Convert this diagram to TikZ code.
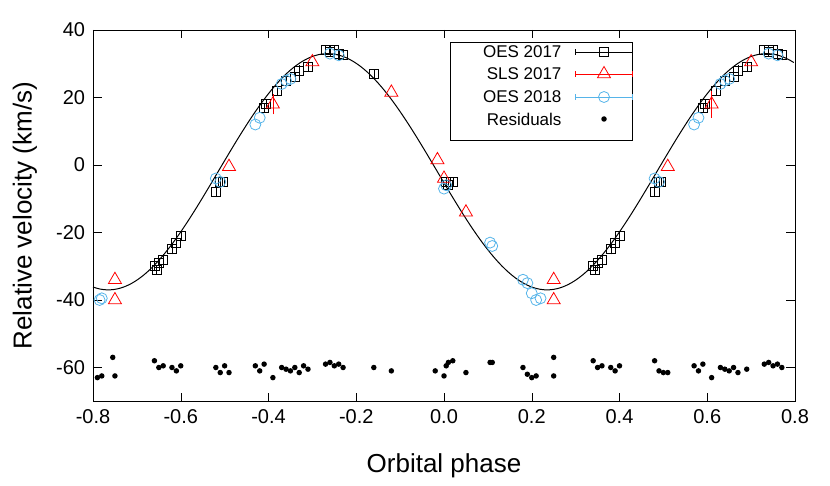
\documentclass[tikz,border=0pt]{standalone}
\usepackage{fontspec}
\setmainfont{Liberation Sans}
\usetikzlibrary{shapes.geometric}
\definecolor{sky}{RGB}{86,180,233}
\begin{document}
\begin{tikzpicture}[x=1pt,y=1pt,
  sq/.style={draw=black,line width=0.8pt,fill=none,minimum size=9pt,inner sep=0pt,shape=rectangle},
  tri/.style={draw=red,line width=0.8pt,regular polygon,regular polygon sides=3,minimum size=15pt,inner sep=0pt},
  circ/.style={draw=sky,line width=0.8pt,circle,minimum size=11pt,inner sep=0pt},
  dot/.style={fill=black,circle,minimum size=5.5pt,inner sep=0pt},
  tick/.style={font=\fontsize{20}{24}\selectfont}]
\useasboundingbox (0,0) rectangle (830,485);
\begin{scope}[shift={(444,320)},x=438.75pt,y=3.375pt]
  \draw[thin] (-0.8,-70) rectangle (0.8,40);
  \foreach \t/\l in {-0.8/-0.8,-0.6/-0.6,-0.4/-0.4,-0.2/-0.2,0.0/0.0,0.2/0.2,0.4/0.4,0.6/0.6,0.8/0.8}{
    \draw (\t,-70) -- ++(0,2.5) (\t,40) -- ++(0,-2.5);
    \node[tick,anchor=north] at (\t,-71.5) {\l};}
  \foreach \v in {-60,-40,-20,0,20,40}{
    \draw (-0.8,\v) -- ++(0.02,0) (0.8,\v) -- ++(-0.02,0);
    \node[tick,anchor=east] at (-0.81,\v) {\v};}
  \node[font=\fontsize{26}{30}\selectfont] at (0,-89) {Orbital phase};
  \node[font=\fontsize{26}{30}\selectfont,rotate=90] at (-0.955,-15) {Relative velocity (km/s)};
  \draw[line width=1pt,samples=200,domain=-0.8:0.8] plot (\x,{-2-35*sin(360*(\x+0.015))});
  % OES 2017
  \foreach \p/\v in {-0.66/-30,-0.655/-31,-0.65/-29,-0.64/-28,-0.62/-25,-0.61/-23,-0.6/-21,
    -0.52/-8,-0.51/-5,-0.505/-5,-0.41/17,-0.405/18,-0.38/22,-0.36/25,-0.34/26,-0.33/28,-0.31/29,
    -0.27/34,-0.26/33.5,-0.25/34,-0.24/33,-0.23/32.5,-0.16/27,0.005/-5,0.01/-6,0.02/-5,
    0.34/-30,0.345/-31,0.35/-29,0.36/-28,0.38/-25,0.39/-23,0.4/-21,0.48/-8,0.49/-5,0.495/-5,
    0.59/17,0.595/18,0.62/22,0.64/25,0.66/26,0.67/28,0.69/29,0.73/34,0.74/33.5,0.75/34,0.76/33,0.77/32.5}
    {\draw (\p,\v-1.5) -- (\p,\v+1.5); \node[sq] at (\p,\v) {};}
  \draw (-0.61,-21) -- (-0.61,-26) (0.61,16) -- (0.61,21);
  % SLS 2017
  \foreach \p/\v in {-0.75/-34,-0.75/-40,-0.49/-0.5,-0.39/18,-0.3/30.5,-0.12/21.5,-0.015/1.5,0.0/-4,
    0.05/-14,0.25/-34,0.25/-40,0.51/-0.5,0.61/18,0.7/30.5}
    {\node[tri] at (\p,\v) {};}
  \draw[red] (0.61,14) -- (0.61,22) (-0.39,15) -- (-0.39,21);
  % OES 2018
  \foreach \p/\v in {-0.785/-40,-0.78/-39.5,-0.52/-4,-0.51/-5,-0.43/12,-0.42/14,-0.37/24,-0.36/25,-0.35/25.5,
    -0.26/33,-0.24/32.5,0.0/-7,0.005/-6,0.105/-23,0.11/-24,0.18/-34,0.19/-35,0.2/-38,0.21/-40,0.22/-39.5,
    0.48/-4,0.49/-5,0.57/12,0.58/14,0.63/24,0.64/25,0.65/25.5,0.74/33,0.76/32.5}
    {\node[circ] at (\p,\v) {};}
  % Residuals
  \foreach \p/\v in {-0.79/-63,-0.78/-62.5,-0.755/-57,-0.75/-62.5,-0.66/-58,-0.65/-60,-0.64/-59.5,-0.62/-60,
    -0.6/-59.5,-0.61/-61,-0.52/-60,-0.51/-61.5,-0.5/-59.5,-0.49/-61.5,-0.43/-59.5,-0.42/-61,-0.41/-59,
    -0.39/-63,-0.37/-60,-0.36/-60.5,-0.35/-61,-0.34/-60,-0.33/-61.5,-0.32/-59.5,-0.31/-60.5,-0.27/-59,
    -0.26/-58.5,-0.25/-59.5,-0.24/-59,-0.23/-60,-0.16/-60,-0.12/-61,-0.02/-61,0.0/-62.5,0.005/-59.5,0.01/-58.5,0.02/-58,
    0.05/-61.5,0.105/-58.5,0.11/-58.5,0.18/-60,0.19/-62,0.2/-63,0.21/-62.5,0.25/-57,0.25/-62.5,
    0.34/-58,0.35/-60,0.36/-59.5,0.38/-60,0.39/-61,0.4/-59.5,0.48/-58,0.49/-61,0.5/-61.5,0.51/-61.5,
    0.57/-59.5,0.58/-61,0.59/-59,0.61/-63,0.63/-60,0.64/-60.5,0.65/-61,0.66/-60,0.67/-61.5,0.69/-60.5,
    0.73/-59,0.74/-58.5,0.75/-59.5,0.76/-59,0.77/-60}
    {\node[dot] at (\p,\v) {};}
\end{scope}
% legend
\draw[thin] (450,443) rectangle (632,345);
\foreach \y/\t in {433/OES 2017,411/SLS 2017,388/OES 2018,366/Residuals}
  \node[font=\fontsize{17}{20}\selectfont,anchor=east] (l\y) at (565,\y) {\t};
\draw (575,433) -- (632,433) (575,430) -- (575,436) (632,430) -- (632,436);
\node[sq] at (604,433) {};
\draw[red] (575,411) -- (632,411) (575,408) -- (575,414) (632,408) -- (632,414);
\node[tri] at (604,411) {};
\draw[sky] (575,388) -- (632,388) (575,385) -- (575,391) (632,385) -- (632,391);
\node[circ] at (604,388) {};
\node[dot] at (604,366) {};
\end{tikzpicture}
\end{document}
